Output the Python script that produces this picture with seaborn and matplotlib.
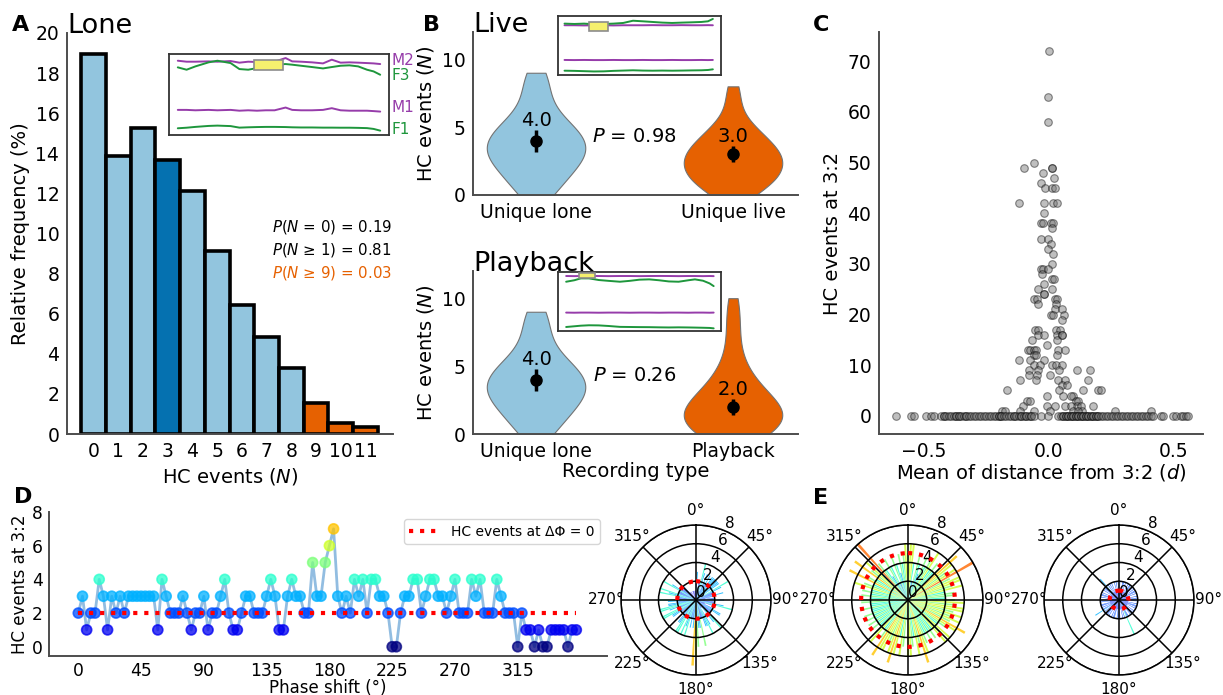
import numpy as np
import pandas as pd
import matplotlib
matplotlib.use('Agg')
import matplotlib.pyplot as plt
import matplotlib.transforms as mtransforms
import seaborn as sns

sns.set_style('white')
plt.rcParams['font.family'] = ['DejaVu Sans']
plt.rcParams['mathtext.fontset'] = 'dejavusans'
plt.rcParams['axes.edgecolor'] = '0.3'
plt.rcParams['axes.linewidth'] = 1.4
for key in ['text.color', 'axes.labelcolor', 'xtick.color', 'ytick.color']:
    plt.rcParams[key] = 'black'

LIGHT = '#92c5de'
DARK = '#0571b0'
ORANGE = '#e66101'
PURPLE = '#963caa'
GREEN = '#1e963c'

# ---------------- data ----------------
# A: relative frequency of HC events, lone recordings
hc_n = ['0', '1', '2', '3', '4', '5', '6', '7', '8', '9', '10', '11']
rel_freq = [18.93, 13.87, 15.25, 13.67, 12.11, 9.13, 6.43, 4.85, 3.30, 1.53, 0.55, 0.37]
bar_colors = [LIGHT, LIGHT, LIGHT, DARK, LIGHT, LIGHT, LIGHT, LIGHT, LIGHT, ORANGE, ORANGE, ORANGE]
prob_text = [r'$P$($N$ = 0) = 0.19', r'$P$($N$ ≥ 1) = 0.81', r'$P$($N$ ≥ 9) = 0.03']

# inset traces (A)
ins_a_x = [4, 8, 12, 18, 22, 28, 32, 36, 40, 44, 48, 53, 56, 60, 65, 70, 74, 78, 82, 86, 90, 93, 96]
ins_a_m2 = [9.17, 9.05, 9.05, 9.09, 9.05, 9.13, 8.93, 9.05, 9.01, 9.01, 9.05, 9.5, 9.09, 9.05, 8.97, 8.84,
            9.3, 8.93, 8.97, 8.93, 8.88, 8.84, 8.76]
ins_a_f3 = [8.35, 8.06, 8.47, 8.97, 9.17, 8.88, 8.14, 8.06, 8.26, 8.47, 8.68, 8.76, 8.68, 8.55, 8.39, 8.22,
            8.39, 8.55, 8.6, 8.47, 8.06, 7.85, 7.44]
ins_a_m1 = [3.1, 3.1, 3.05, 3.1, 3.05, 3.1, 3.0, 3.05, 3.0, 3.05, 3.05, 3.39, 3.1, 3.05, 3.05, 3.1,
            3.31, 3.05, 3.0, 3.0, 3.0, 2.95, 2.89]
ins_a_f1 = [0.83, 0.9, 1.0, 1.12, 1.16, 1.1, 0.91, 0.95, 0.98, 1.0, 1.0, 0.98, 0.95, 0.93, 0.93, 0.91,
            0.91, 0.9, 0.9, 0.88, 0.85, 0.75, 0.54]

# B: violin samples (values and how often they occur)
lone_vals = [0, 1, 2, 3, 4, 5, 6, 7, 8, 9]
lone_counts = [3, 4, 6, 8, 8, 6, 3, 2, 2, 2]
live_vals = [0, 1, 2, 3, 4, 5, 6, 7, 8]
live_counts = [3, 6, 7, 7, 5, 3, 1, 1, 1]
play_vals = [0, 1, 2, 3, 4, 5, 6, 7, 8, 9, 10]
play_counts = [7, 9, 8, 5, 3, 2, 1, 1, 1, 1, 1]
live_labels = ['Unique lone', 'Unique live']
play_labels = ['Unique lone', 'Playback']
live_med, live_lo, live_hi = [4.0, 3.0], [3.2, 2.4], [4.8, 3.6]
play_med, play_lo, play_hi = [4.0, 2.0], [3.2, 1.4], [4.8, 2.6]

ins_b_x = [4, 10, 16, 22, 28, 34, 40, 46, 52, 58, 64, 70, 76, 82, 88, 92, 95]
ins_b_gtop = [8.71, 8.65, 8.71, 8.6, 8.65, 8.71, 8.82, 9.2, 9.1, 8.99, 8.88, 8.82, 8.88, 8.93, 8.99, 9.1, 9.5]
ins_b_ptop = [8.43, 8.43, 8.4, 8.43, 8.43, 8.4, 8.43, 8.43, 8.43, 8.45, 8.43, 8.43, 8.45, 8.43, 8.43, 8.45, 8.43]
ins_b_pmid = [2.55, 2.53, 2.55, 2.53, 2.53, 2.55, 2.53, 2.53, 2.55, 2.53, 2.53, 2.55, 2.53, 2.53, 2.55, 2.53, 2.55]
ins_b_gbot = [0.73, 0.7, 0.65, 0.6, 0.62, 0.7, 0.75, 0.8, 0.75, 0.73, 0.75, 0.73, 0.75, 0.78, 0.8, 0.85, 0.96]

ins_p_x = [5, 10, 14, 19, 25, 31, 38, 44, 50, 56, 62, 68, 74, 80, 84, 89, 93, 95.5]
ins_p_gtop = [8.35, 8.6, 8.92, 8.92, 8.64, 8.5, 8.35, 8.5, 8.7, 8.75, 8.6, 8.4, 8.35, 8.6, 8.75, 8.52, 8.07, 7.61]
ins_p_ptop = [9.32, 9.3, 9.32, 9.33, 9.32, 9.3, 9.32, 9.32, 9.3, 9.32, 9.33, 9.32, 9.3, 9.32, 9.32, 9.3, 9.32, 9.3]
ins_p_pmid = [3.12, 3.1, 3.12, 3.12, 3.1, 3.12, 3.12, 3.1, 3.12, 3.12, 3.1, 3.12, 3.12, 3.1, 3.12, 3.12, 3.1, 3.12]
ins_p_gbot = [0.68, 0.8, 0.9, 0.97, 0.95, 0.85, 0.7, 0.68, 0.66, 0.65, 0.62, 0.6, 0.62, 0.6, 0.58, 0.55, 0.52, 0.45]

# C: HC events at 3:2 vs mean distance from 3:2
c_x = [0.004, 0.0, 0.0, -0.099, -0.06, 0.016, 0.016, -0.02, 0.024, -0.031, -0.013, 0.016, 0.027, -0.119,
       -0.016, 0.017, 0.033, -0.016, -0.03, -0.02, 0.01, 0.02, 0.013, -0.031, 0.0, 0.01, 0.0, 0.02, 0.013,
       -0.03, -0.023, 0.0, -0.026, 0.013, 0.024, -0.016, 0.013, -0.044, -0.06, -0.047, 0.027, 0.033, -0.016,
       -0.016, -0.044, 0.03, 0.027, 0.056, 0.063, 0.01, 0.017, 0.056, 0.03, 0.047, -0.053, -0.044, 0.036,
       0.053, 0.053, -0.044, -0.016, -0.067, 0.036, -0.004, -0.083, -0.073, -0.06, -0.049, 0.04, 0.067,
       -0.06, -0.049, 0.036, -0.12, -0.073, -0.016, -0.06, -0.033, 0.013, 0.03, 0.056, -0.08, -0.044, 0.113,
       0.167, 0.044, -0.08, -0.047, 0.007, 0.04, 0.067, 0.16, -0.116, -0.049, 0.053, 0.073, -0.167, 0.044,
       0.14, 0.2, 0.21, 0.06, 0.1, 0.09, -0.004, 0.11, 0.12, -0.087, -0.073, -0.103, -0.007, 0.027, 0.067,
       0.113, 0.18, 0.13, 0.09, -0.187, -0.173, -0.113, -0.06, 0.007, 0.1, 0.133, 0.267, 0.413, 0.12]
c_y = [72, 63, 58, 49, 50, 49, 49, 48, 47, 46, 45, 45, 45, 42, 42, 42, 42, 40, 38, 38, 38, 38, 37, 35, 35,
       34, 33, 32, 30, 29, 29, 29, 28, 27, 27, 26, 25, 25, 23, 23, 23, 23, 24, 24, 22, 22, 21, 21, 20, 20,
       20, 19, 17, 17, 17, 17, 16, 16, 16, 16, 16, 15, 15, 14, 13, 13, 13, 13, 13, 13, 12, 12, 12, 11, 11,
       11, 10, 10, 10, 10, 10, 9, 9, 9, 9, 9, 8, 8, 8, 7, 7, 7, 7, 7, 6, 6, 5, 5, 5, 5, 5, 4, 4, 4, 4, 3,
       3, 3, 3, 2, 2, 2, 2, 2, 2, 2, 2, 1, 1, 1, 1, 1, 1, 1, 1, 1, 1]
c_x_zero = [-0.61, -0.55, -0.54, -0.49, -0.47, -0.46, -0.43, -0.42, -0.42, -0.41, -0.40, -0.39, -0.38,
            -0.37, -0.37, -0.36, -0.36, -0.35, -0.34, -0.33, -0.33, -0.32, -0.31, -0.30, -0.29, -0.28,
            -0.27, -0.26, -0.25, -0.24, -0.23, -0.22, -0.21, -0.20, -0.20, -0.19, -0.19, -0.18, -0.17,
            -0.16, -0.15, -0.14, -0.14, -0.13, -0.12, -0.11, -0.11, -0.10, -0.09, -0.09, -0.08, -0.07,
            -0.07, -0.06, -0.03, 0.0, 0.04, 0.05, 0.06, 0.06, 0.07, 0.07, 0.08, 0.08, 0.09, 0.09, 0.10,
            0.10, 0.11, 0.11, 0.12, 0.12, 0.13, 0.13, 0.14, 0.14, 0.15, 0.15, 0.16, 0.16, 0.17, 0.17, 0.18,
            0.18, 0.19, 0.19, 0.20, 0.20, 0.21, 0.22, 0.23, 0.24, 0.25, 0.26, 0.27, 0.28, 0.29, 0.30, 0.31,
            0.32, 0.33, 0.34, 0.35, 0.36, 0.37, 0.38, 0.39, 0.40, 0.41, 0.42, 0.45, 0.46, 0.50, 0.51, 0.53,
            0.54, 0.55, 0.56]

# D/E: HC events at 3:2 per phase shift (3 degree steps)
phase = np.arange(0, 360, 3)
d_events = [2, 3, 1, 2, 2, 4, 3, 1, 3, 2, 3, 2, 3, 3, 3, 3, 3, 3, 3, 1,
            4, 3, 2, 2, 2, 3, 2, 1, 2, 2, 3, 1, 2, 2, 3, 4, 2, 1, 1, 2,
            3, 3, 2, 2, 2, 3, 4, 3, 1, 1, 3, 4, 3, 3, 2, 2, 5, 3, 3, 5,
            6, 7, 3, 2, 3, 2, 4, 3, 4, 2, 4, 4, 3, 3, 2, 0, 0, 2, 3, 3,
            4, 4, 2, 3, 4, 4, 3, 3, 2, 3, 4, 2, 2, 2, 4, 3, 4, 2, 2, 2,
            4, 3, 2, 2, 2, 0, 2, 1, 1, 0, 1, 0, 0, 1, 1, 1, 1, 0, 1, 1]
e1_events = [5, 6, 6, 4, 2, 5, 4, 3, 5, 4, 5, 6, 4, 5, 4, 5, 7, 6, 5, 6,
             8, 5, 6, 6, 5, 6, 4, 5, 5, 4, 5, 6, 5, 6, 6, 5, 6, 5, 6, 5,
             7, 6, 5, 4, 6, 5, 6, 4, 5, 4, 5, 4, 5, 6, 7, 5, 6, 4, 5, 6,
             6, 2, 5, 6, 4, 6, 7, 6, 5, 6, 6, 7, 5, 4, 6, 5, 4, 5, 4, 5,
             4, 5, 4, 5, 4, 4, 5, 4, 4, 5, 5, 4, 5, 4, 5, 4, 6, 5, 4, 7,
             5, 4, 7, 5, 6, 4, 8, 5, 4, 3, 5, 4, 2, 5, 4, 3, 5, 4, 5, 6]
e2_events = [1, 2, 1, 1, 2, 2, 1, 2, 1, 1, 2, 1, 2, 2, 1, 1, 2, 1, 2, 1,
             2, 2, 1, 2, 1, 1, 2, 1, 2, 2, 1, 2, 1, 1, 2, 1, 2, 2, 1, 2,
             1, 1, 2, 1, 2, 2, 1, 2, 1, 1, 2, 2, 4, 1, 2, 1, 2, 1, 1, 2,
             2, 1, 2, 1, 1, 2, 2, 1, 2, 1, 1, 2, 1, 2, 2, 1, 1, 2, 1, 3,
             2, 1, 2, 1, 2, 2, 1, 1, 2, 1, 2, 1, 1, 2, 1, 2, 2, 1, 2, 1,
             1, 2, 1, 2, 2, 1, 3, 1, 2, 1, 2, 1, 2, 1, 1, 2, 1, 2, 1, 2]

# ---------------- figure ----------------
W, H = 1223, 695
fig = plt.figure(figsize=(W / 100, H / 100), dpi=100)
jet = plt.get_cmap('jet')


def rect(x0, y0, x1, y1):
    # pixel box measured from top-left -> figure fraction
    return [x0 / W, 1 - y1 / H, (x1 - x0) / W, (y1 - y0) / H]


def trace_inset(r, xs, traces, hl):
    ax = fig.add_axes(r)
    for ys, col in traces:
        ax.plot(xs, ys, color=col, lw=1.4)
    ax.add_patch(plt.Rectangle((hl[0], hl[2]), hl[1] - hl[0], hl[3] - hl[2],
                               facecolor='#f5f06e', edgecolor='0.55', lw=1.2, zorder=3))
    ax.set_xlim(0, 100)
    ax.set_ylim(0, 10)
    ax.set_xticks([])
    ax.set_yticks([])
    for s in ax.spines.values():
        s.set_visible(True)
        s.set_color('0.2')
        s.set_linewidth(1.3)
    return ax


def fig_label(x, y, s):
    fig.text(x / W, 1 - y / H, s, fontsize=16, fontweight='bold', va='baseline')


# ----- A -----
axA = fig.add_axes(rect(67, 33, 393, 434))
sns.barplot(x=hc_n, y=rel_freq, hue=hc_n, palette=dict(zip(hc_n, bar_colors)), legend=False,
            width=1, edgecolor='black', linewidth=2.6, saturation=1, ax=axA)
axA.set_xlim(-1.07, 12.11)
axA.set_ylim(0, 20)
axA.set_yticks(range(0, 21, 2))
axA.set_xlabel('HC events ($N$)', fontsize=14)
axA.set_ylabel('Relative frequency (%)', fontsize=14)
axA.tick_params(labelsize=13.5, pad=2)
sns.despine(ax=axA)
axA.set_title('Lone', loc='left', fontsize=19.5, pad=0)
for k, (s, col) in enumerate(zip(prob_text, ['black', 'black', ORANGE])):
    axA.text(7.2, 10.08 - 1.13 * k, s, color=col, fontsize=10.8, va='baseline')

insA = trace_inset(rect(169, 54, 389, 135), ins_a_x,
                   [(ins_a_m2, PURPLE), (ins_a_f3, GREEN), (ins_a_m1, PURPLE), (ins_a_f1, GREEN)],
                   (38.6, 51.7, 8.06, 9.3))
tr = mtransforms.blended_transform_factory(insA.transAxes, insA.transData)
for lab, yy, col in [('M2', 9.17, PURPLE), ('F3', 7.3, GREEN), ('M1', 3.39, PURPLE), ('F1', 0.7, GREEN)]:
    insA.text(1.01, yy, lab, transform=tr, color=col, fontsize=11, va='center', ha='left')


# ----- B -----
def violin_panel(r, labels, samples, med, lo, hi, ptxt, title, xlabel):
    ax = fig.add_axes(r)
    df = pd.DataFrame({'type': np.repeat(labels, [len(s) for s in samples]),
                       'events': np.concatenate(samples)})
    sns.violinplot(data=df, x='type', y='events', hue='type', palette=[LIGHT, ORANGE], legend=False,
                   cut=0, inner=None, density_norm='width', width=0.5, linewidth=0.8,
                   linecolor='0.45', saturation=1, ax=ax)
    med = np.array(med)
    ax.errorbar([0, 1], med, yerr=[med - np.array(lo), np.array(hi) - med], fmt='o', color='black',
                ms=8, elinewidth=2.5, capsize=0, zorder=5)
    for i in range(2):
        ax.text(i, hi[i], f'{med[i]:.1f}', ha='center', va='bottom', fontsize=14)
    ax.text(0.5, 4.3, ptxt, ha='center', va='center', fontsize=14)
    ax.set_xlim(-0.32, 1.33)
    ax.set_ylim(0, 12)
    ax.set_yticks([0, 5, 10])
    ax.set_ylabel('HC events ($N$)', fontsize=14)
    ax.set_xlabel(xlabel, fontsize=14, labelpad=1)
    ax.tick_params(labelsize=13.5, pad=2)
    ax.set_title(title, loc='left', fontsize=19.5, pad=0)
    sns.despine(ax=ax)
    return ax


lone_s = np.repeat(lone_vals, lone_counts)
live_s = np.repeat(live_vals, live_counts)
play_s = np.repeat(play_vals, play_counts)
violin_panel(rect(473, 32, 798, 195), live_labels, [lone_s, live_s], live_med, live_lo, live_hi,
             r'$P$ = 0.98', 'Live', '')
violin_panel(rect(473, 271, 798, 434), play_labels, [lone_s, play_s], play_med, play_lo, play_hi,
             r'$P$ = 0.26', 'Playback', 'Recording type')
trace_inset(rect(558, 16, 721, 75), ins_b_x,
            [(ins_b_ptop, PURPLE), (ins_b_gtop, GREEN), (ins_b_pmid, PURPLE), (ins_b_gbot, GREEN)],
            (19.1, 30.8, 7.47, 8.99))
trace_inset(rect(558, 272, 721, 331), ins_p_x,
            [(ins_p_ptop, PURPLE), (ins_p_gtop, GREEN), (ins_p_pmid, PURPLE), (ins_p_gbot, GREEN)],
            (12.9, 22.6, 9.03, 9.89))

# ----- C -----
axC = fig.add_axes(rect(879, 32, 1203, 434))
c_df = pd.DataFrame({'d': c_x + c_x_zero, 'n': c_y + [0] * len(c_x_zero)})
sns.scatterplot(data=c_df, x='d', y='n', color='0.45', alpha=0.45, edgecolor='black', linewidth=0.8,
                s=30, ax=axC)
axC.set_xlim(-0.68, 0.62)
axC.set_ylim(-3.6, 75.8)
axC.set_xticks([-0.5, 0.0, 0.5])
axC.set_yticks(range(0, 71, 10))
axC.set_xlabel('Mean of distance from 3:2 ($d$)', fontsize=14, labelpad=1)
axC.set_ylabel('HC events at 3:2', fontsize=14)
axC.tick_params(labelsize=13.5, pad=2)
sns.despine(ax=axC)

# ----- D -----
axD = fig.add_axes(rect(49, 512, 607, 656))
sns.lineplot(x=phase, y=d_events, color='#7fb2dc', lw=2, alpha=0.85, ax=axD, zorder=2)
sns.scatterplot(x=phase, y=d_events, hue=d_events, palette=jet, hue_norm=(0, 10), legend=False,
                s=52, alpha=0.75, edgecolor='face', linewidth=1.2, ax=axD, zorder=3)
axD.plot([0, 357], [d_events[0], d_events[0]], color='red', ls=':', lw=3, zorder=4,
         label='HC events at ΔΦ = 0')
axD.legend(loc='upper right', fontsize=10, frameon=True, handlelength=2.2)
axD.set_xlim(-21, 379)
axD.set_ylim(-0.55, 8)
axD.set_xticks(range(0, 316, 45))
axD.set_yticks([0, 2, 4, 6, 8])
axD.set_xlabel('Phase shift (°)', fontsize=12, labelpad=-1)
axD.set_ylabel('HC events at 3:2', fontsize=12, labelpad=2)
axD.tick_params(labelsize=12.3, pad=1)
sns.despine(ax=axD)


def polar_panel(r, values):
    ax = fig.add_axes(r, projection='polar')
    ax.set_theta_zero_location('N')
    ax.set_theta_direction(-1)
    vals = np.array(values)
    ax.bar(np.deg2rad(phase), vals, width=np.deg2rad(2.2), color=jet(vals / 10), alpha=0.8,
           linewidth=0, zorder=2)
    circ = np.linspace(0, 2 * np.pi, 300)
    ax.plot(circ, np.full_like(circ, vals[0]), color='red', ls=':', lw=3, zorder=4)
    ax.set_ylim(0, 8)
    ax.set_yticks([0, 2, 4, 6, 8])
    ax.set_xticks(np.deg2rad(np.arange(0, 360, 45)))
    ax.set_xticklabels([f'{a}°' for a in range(0, 360, 45)])
    ax.tick_params(labelsize=11, pad=0)
    ax.grid(True, color='black', lw=1.1, ls='-')
    ax.set_axisbelow(False)
    ax.spines['polar'].set_color('black')
    ax.spines['polar'].set_linewidth(1.1)
    return ax


polar_panel(rect(621, 525, 771, 675), d_events)
polar_panel(rect(833, 525, 983, 675), e1_events)
polar_panel(rect(1044, 525, 1194, 675), e2_events)

fig_label(12, 31, 'A')
fig_label(423, 31, 'B')
fig_label(813, 31, 'C')
fig_label(14, 503, 'D')
fig_label(813, 504, 'E')

fig.savefig('out.png', dpi=100)
